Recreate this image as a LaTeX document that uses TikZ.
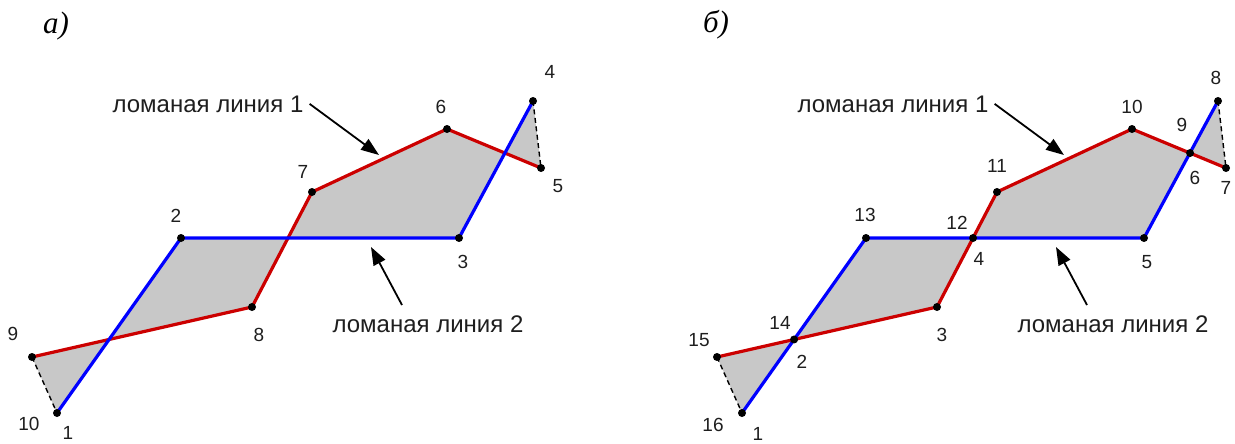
\documentclass[tikz,border=0pt]{standalone}
\usepackage{fontspec}
\setmainfont{Liberation Sans}
\newfontfamily\letterfont{Liberation Serif}
\usetikzlibrary{arrows.meta,calc}
\definecolor{linered}  {RGB}{204,0,0}
\definecolor{lineblue} {RGB}{0,0,255}
\definecolor{fillgray} {RGB}{200,200,200}
\definecolor{textgray} {RGB}{30,30,30}

\begin{document}
\begin{tikzpicture}[x=1pt,y=-1pt,
  redline/.style={draw=linered,line width=3.2pt,line join=round},
  blueline/.style={draw=lineblue,line width=3.2pt,line join=round},
  closeline/.style={draw=black,line width=1.4pt,dash pattern=on 5pt off 3.5pt},
  dot/.style={circle,fill=black,inner sep=0pt,minimum size=8pt},
  num/.style={font=\fontsize{19}{21}\selectfont,text=textgray,inner sep=0pt},
  lbl/.style={font=\fontsize{24}{27}\selectfont,text=textgray,inner sep=0pt,anchor=base},
  pointer/.style={-{Triangle[length=18pt,width=13pt]},line width=1.8pt},
  panel/.style={font=\letterfont\itshape\fontsize{31}{35}\selectfont,inner sep=0pt}
]
\useasboundingbox (0,0) rectangle (1235,444);

% panel a
\coordinate (a1) at (57,413);
\coordinate (a2) at (181,238);
\coordinate (a3) at (459,238);
\coordinate (a4) at (533,101);
\coordinate (a5) at (541,168);
\coordinate (a6) at (447,129);
\coordinate (a7) at (312,192);
\coordinate (a8) at (252,307);
\coordinate (a9) at (32,357);

\fill[fillgray] (a1)--(a2)--(a3)--(a4)--(a5)--(a6)--(a7)--(a8)--(a9)--cycle;
\draw[closeline] (a4) -- (a5);
\draw[closeline] (a9) -- (a1);
\draw[redline]  (a5)--(a6)--(a7)--(a8)--(a9);
\draw[blueline] (a1)--(a2)--(a3)--(a4);
\foreach \p in {a1,a2,a3,a4,a5,a6,a7,a8,a9}
  \node[dot] at (\p) {};

\node[panel] (pa) at (56,26) {а)};
\node[num] (na1)  at (68,433)  {1};
\node[num] (na2)  at (176,216) {2};
\node[num] (na3)  at (463,262) {3};
\node[num] (na4)  at (550,72)  {4};
\node[num] (na5)  at (558,186) {5};
\node[num] (na6)  at (441,107) {6};
\node[num] (na7)  at (303,172) {7};
\node[num] (na8)  at (259,335) {8};
\node[num] (na9)  at (13,334)  {9};
\node[num] (na10) at (29,424)  {10};

\node[lbl] (lineA1) at (208,112) {ломаная линия 1};
\coordinate (tipA1) at (379,155);
\draw[pointer] ([xshift=6pt]lineA1.east) -- (tipA1);
\node[lbl] (lineA2) at (428,332) {ломаная линия 2};
\coordinate (tailA2) at (402,305);
\coordinate (tipA2) at (371,247);
\draw[pointer] (tailA2) -- (tipA2);

% panel b
\coordinate (b1)  at (742,413);
\coordinate (b3)  at (937,307);
\coordinate (b5)  at (1144,238);
\coordinate (b7)  at (1226,168);
\coordinate (b8)  at (1218,101);
\coordinate (b10) at (1132,129);
\coordinate (b11) at (997,192);
\coordinate (b13) at (866,238);
\coordinate (b15) at (717,357);
\coordinate (b2) at (intersection of b1--b13 and b15--b3);
\coordinate (b4) at (intersection of b13--b5 and b11--b3);
\coordinate (b6) at (intersection of b5--b8 and b7--b10);

\fill[fillgray] (b1)--(b13)--(b5)--(b8)--(b7)--(b10)--(b11)--(b3)--(b15)--cycle;
\draw[closeline] (b8) -- (b7);
\draw[closeline] (b15) -- (b1);
\draw[redline]  (b7)--(b10)--(b11)--(b3)--(b15);
\draw[blueline] (b1)--(b13)--(b5)--(b8);
\foreach \p in {b1,b2,b3,b4,b5,b6,b7,b8,b10,b11,b13,b15}
  \node[dot] at (\p) {};

\node[panel] (pb) at (716,25) {б)};
\node[num] (nb1)  at (758,434)  {1};
\node[num] (nb2)  at (802,362)  {2};
\node[num] (nb3)  at (942,335)  {3};
\node[num] (nb4)  at (979,259)  {4};
\node[num] (nb5)  at (1147,262) {5};
\node[num] (nb6)  at (1195,178) {6};
\node[num] (nb7)  at (1226,188) {7};
\node[num] (nb8)  at (1216,78)  {8};
\node[num] (nb9)  at (1182,125) {9};
\node[num] (nb10) at (1132,107) {10};
\node[num] (nb11) at (997,166)  {11};
\node[num] (nb12) at (957,223)  {12};
\node[num] (nb13) at (865,215)  {13};
\node[num] (nb14) at (780,323)  {14};
\node[num] (nb15) at (699,340)  {15};
\node[num] (nb16) at (713,425)  {16};

\node[lbl] (lineB1) at (893,112) {ломаная линия 1};
\coordinate (tipB1) at (1064,155);
\draw[pointer] ([xshift=6pt]lineB1.east) -- (tipB1);
\node[lbl] (lineB2) at (1113,332) {ломаная линия 2};
\coordinate (tailB2) at (1087,305);
\coordinate (tipB2) at (1056,247);
\draw[pointer] (tailB2) -- (tipB2);
\end{tikzpicture}
\end{document}
